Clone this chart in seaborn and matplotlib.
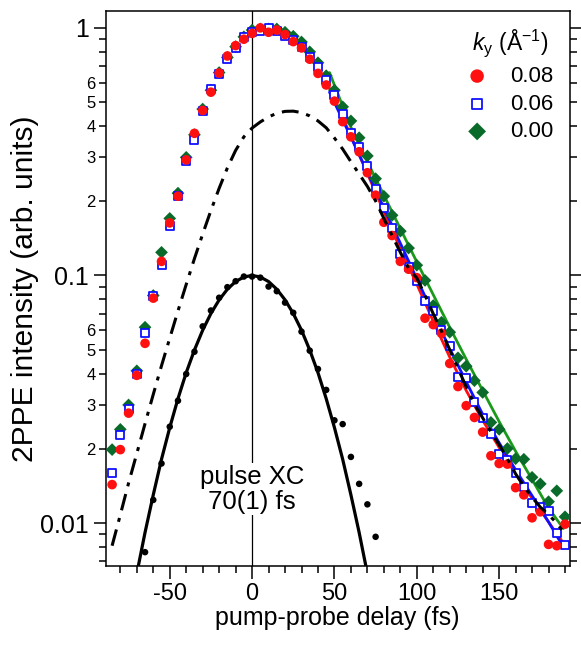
import numpy as np
import pandas as pd
import matplotlib
matplotlib.use('Agg')
import matplotlib.pyplot as plt
import matplotlib.ticker as mticker
import seaborn as sns

# delay axis of the measurements (fs)
delay = list(range(-85, 195, 5))

# 2PPE intensity, k_y = 0.08, 0.06, 0.00 (1/A)
int_008 = [0.0143, 0.0198, 0.0278, 0.0395, 0.0532, 0.081, 0.114, 0.163, 0.209, 0.293,
           0.375, 0.464, 0.55, 0.657, 0.77, 0.848, 0.90, 0.95, 1.0, 0.96,
           0.98, 0.94, 0.88, 0.83, 0.747, 0.655, 0.588, 0.506, 0.418, 0.363,
           0.316, 0.26, 0.211, 0.164, 0.145, 0.114, 0.106, 0.098, 0.0672, 0.0633,
           0.0584, 0.0441, 0.0356, 0.0298, 0.0267, 0.0233, 0.0187, 0.0174, 0.0173, 0.0139,
           0.013, 0.0105, 0.0111, 0.0082, 0.0081, 0.0099]
int_006 = [0.0159, 0.0227, 0.0289, 0.040, 0.0586, 0.083, 0.11, 0.158, 0.21, 0.29,
           0.352, 0.46, 0.568, 0.65, 0.747, 0.827, 0.922, 0.96, 0.975, 1.0,
           0.97, 0.928, 0.89, 0.84, 0.76, 0.697, 0.616, 0.536, 0.447, 0.377,
           0.331, 0.277, 0.224, 0.187, 0.155, 0.122, 0.108, 0.095, 0.0792, 0.0717,
           0.0603, 0.0517, 0.0388, 0.0385, 0.0307, 0.0265, 0.0228, 0.019, 0.0179, 0.016,
           0.014, 0.012, 0.0116, 0.0112, 0.0091, 0.00814]
int_000 = [0.0198, 0.0239, 0.030, 0.0412, 0.0618, 0.083, 0.124, 0.17, 0.215, 0.30,
           0.37, 0.47, 0.56, 0.66, 0.76, 0.84, 0.92, 0.98, 0.99, 0.99,
           0.99, 0.96, 0.925, 0.877, 0.80, 0.723, 0.641, 0.56, 0.48, 0.421,
           0.36, 0.304, 0.246, 0.209, 0.175, 0.151, 0.129, 0.11, 0.0955, 0.0756,
           0.0647, 0.059, 0.0465, 0.043, 0.0376, 0.0337, 0.0255, 0.0239, 0.020, 0.0182,
           0.0181, 0.0153, 0.0144, 0.0122, 0.0135, 0.0106]

# exponential fits (solid coloured lines)
fit_t = [47, 60, 70, 80, 90, 100, 110, 120, 130, 140, 150, 160, 170, 180, 189]
fit_008 = [0.57, 0.366, 0.258, 0.1815, 0.128, 0.0923, 0.0653, 0.0468, 0.0343, 0.026,
           0.0202, 0.0158, 0.0126, 0.0101, 0.0083]
fit_006 = [0.55, 0.362, 0.261, 0.1875, 0.135, 0.097, 0.070, 0.0507, 0.0372, 0.0275,
           0.0211, 0.0164, 0.0129, 0.0101, 0.0080]
fit_000 = [0.66, 0.397, 0.288, 0.211, 0.1545, 0.1135, 0.0836, 0.0617, 0.0459, 0.0343,
           0.0257, 0.0195, 0.015, 0.0115, 0.0095]

# model curve (dash-dot)
model_t = [-85, -80, -75, -70, -65, -60, -55, -50, -45, -40, -35, -30, -25, -20, -15,
           -10, -5, 0, 5, 10, 15, 20, 25, 30, 35, 40, 45, 50, 55, 60, 65, 70, 75,
           80, 85, 90, 95, 100, 105, 110, 115, 120, 125, 130, 135, 140, 145, 150,
           155, 160, 165, 170, 175, 180, 185, 188]
model_i = [0.0081, 0.0108, 0.0145, 0.0191, 0.0252, 0.0331, 0.0432, 0.0558, 0.0719, 0.092,
           0.117, 0.147, 0.183, 0.225, 0.272, 0.32, 0.363, 0.394, 0.417, 0.437,
           0.452, 0.46, 0.461, 0.455, 0.441, 0.421, 0.395, 0.359, 0.324, 0.288,
           0.257, 0.229, 0.2, 0.17, 0.145, 0.124, 0.107, 0.0977, 0.0832, 0.07,
           0.0596, 0.0501, 0.0422, 0.0355, 0.0302, 0.0266, 0.0234, 0.0207, 0.0182, 0.0158,
           0.0141, 0.0127, 0.0116, 0.0108, 0.010, 0.0094]

# pulse cross-correlation data and gaussian fit
xc_t = [-65, -60, -55, -50, -45, -40, -35, -30, -25, -20, -15, -10, -5, 0,
        5, 10, 15, 20, 25, 30, 35, 40, 45, 50, 55, 60, 65, 70, 75]
xc_i = [0.00763, 0.0124, 0.0174, 0.0245, 0.0312, 0.040, 0.0492, 0.0623, 0.0722, 0.0813,
        0.0897, 0.0948, 0.099, 0.099, 0.098, 0.0902, 0.0864, 0.0777, 0.0707, 0.0593,
        0.0497, 0.0419, 0.0345, 0.026, 0.0251, 0.0185, 0.0144, 0.0119, 0.0088]
gauss_t = [-75, -70, -65, -60, -55, -50, -45, -40, -35, -30, -25, -20, -15, -10, -5, 0,
           5, 10, 15, 20, 25, 30, 35, 40, 45, 50, 55, 60, 65, 70, 75]
gauss_i = [0.00415, 0.00625, 0.00916, 0.0130, 0.0181, 0.0243, 0.0318, 0.0405, 0.0500, 0.0601,
           0.0702, 0.0797, 0.0880, 0.0945, 0.0986, 0.1, 0.0986, 0.0945, 0.0880, 0.0797,
           0.0702, 0.0601, 0.0500, 0.0405, 0.0318, 0.0243, 0.0181, 0.0130, 0.00916, 0.00625,
           0.00415]

xtick_major = [-50, 0, 50, 100, 150]

sns.set_style("ticks")
plt.rcParams['font.family'] = ['Liberation Sans', 'DejaVu Sans']
plt.rcParams['mathtext.fontset'] = 'custom'
plt.rcParams['mathtext.rm'] = 'Liberation Sans'
plt.rcParams['mathtext.it'] = 'Liberation Sans:italic'
plt.rcParams['axes.unicode_minus'] = False
for key in ['text.color', 'axes.labelcolor', 'xtick.color', 'ytick.color', 'axes.edgecolor']:
    plt.rcParams[key] = 'black'

d = pd.DataFrame({'delay': delay, '0.08': int_008, '0.06': int_006, '0.00': int_000})

fig = plt.figure(figsize=(5.81, 6.47), dpi=100)
ax = fig.add_axes([0.1816, 0.125, 0.7994, 0.858])
ax.set_yscale('log')

ax.axvline(0, color='black', lw=0.9, zorder=1)

sns.lineplot(x=gauss_t, y=gauss_i, ax=ax, color='black', lw=2.3, zorder=3)
sns.scatterplot(x=xc_t, y=xc_i, ax=ax, color='black', s=22, edgecolor='none', zorder=4)

sns.lineplot(x=fit_t, y=fit_000, ax=ax, color='#1a9a1a', lw=2.0, zorder=3)
sns.lineplot(x=fit_t, y=fit_008, ax=ax, color='#ff1010', lw=2.0, zorder=3)
sns.lineplot(x=fit_t, y=fit_006, ax=ax, color='#1010ff', lw=2.0, zorder=3)

sns.scatterplot(data=d, x='delay', y='0.00', ax=ax, marker='D', s=42, color='#0a6a2a',
                edgecolor='none', zorder=5, label='0.00')
sns.scatterplot(data=d, x='delay', y='0.06', ax=ax, marker='s', s=26, facecolor='white',
                edgecolor='#1010ff', linewidth=1.3, zorder=6, label='0.06')
sns.scatterplot(data=d, x='delay', y='0.08', ax=ax, marker='o', s=48, color='#ff1010',
                edgecolor='none', zorder=7, label='0.08')

sns.lineplot(x=model_t, y=model_i, ax=ax, color='black', lw=2.2, zorder=8)
ax.lines[-1].set_dashes([5.5, 2.6, 1.3, 2.6])

ax.text(0, 0.0137, 'pulse XC\n70(1) fs', ha='center', va='center', fontsize=18.5,
        linespacing=1.05, zorder=9,
        bbox=dict(facecolor='white', edgecolor='none', pad=1))

ax.set_xlim(-89, 193)
ax.set_ylim(0.0067, 1.17)

ax.set_xticks(xtick_major)
ax.xaxis.set_minor_locator(mticker.MultipleLocator(10))
ax.yaxis.set_major_locator(mticker.FixedLocator([0.01, 0.1, 1]))
ax.yaxis.set_major_formatter(mticker.FixedFormatter(['0.01', '0.1', '1']))
ax.yaxis.set_minor_locator(mticker.LogLocator(base=10, subs=np.arange(2, 10)))


def minor_fmt(v, pos):
    m = v / 10 ** np.floor(np.log10(v) + 1e-9)
    k = int(round(m))
    return str(k) if 2 <= k <= 6 else ''


ax.yaxis.set_minor_formatter(mticker.FuncFormatter(minor_fmt))

ax.tick_params(which='both', direction='out', color='black', labelcolor='black',
               width=1.1, top=False, right=True)
ax.tick_params(which='major', length=9, pad=3)
ax.tick_params(axis='x', which='major', labelsize=17)
ax.tick_params(axis='y', which='major', labelsize=18)
ax.tick_params(which='minor', length=5)
ax.tick_params(axis='y', which='minor', labelsize=12, pad=2)
for s in ax.spines.values():
    s.set_linewidth(1.1)
    s.set_color('black')

ax.set_xlabel('pump-probe delay (fs)', fontsize=18, labelpad=1)
ax.set_ylabel('2PPE intensity (arb. units)', fontsize=21.5, labelpad=1)

h, l = ax.get_legend_handles_labels()
order = [l.index('0.08'), l.index('0.06'), l.index('0.00')]
leg = ax.legend([h[i] for i in order], [l[i] for i in order],
                title=r'$k_\mathrm{y}$ (Å$^{-1}$)', loc='upper right',
                bbox_to_anchor=(0.965, 0.97), frameon=False, fontsize=16,
                title_fontsize=16.5, borderpad=0, borderaxespad=0, handlelength=1.0,
                handletextpad=1.0, labelspacing=0.3, markerscale=1.4)

fig.savefig('out.png', dpi=100)
